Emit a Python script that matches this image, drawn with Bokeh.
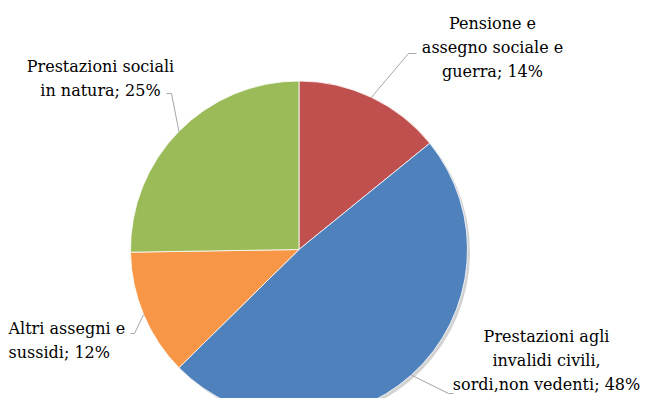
import numpy as np
from bokeh.plotting import figure
from bokeh.models import Range1d, ColumnDataSource
from bokeh.core.properties import value
from bokeh.embed import file_html
from bokeh.resources import INLINE

# ---- data ----
categories = [
    "Pensione e\nassegno sociale e\nguerra",
    "Prestazioni agli\ninvalidi civili,\nsordi,non vedenti",
    "Altri assegni e\nsussidi",
    "Prestazioni sociali\nin natura",
]
percent = [14, 48, 12, 25]
colors = ["#C0504D", "#4F81BD", "#F79646", "#9BBB59"]

# ---- layout (reference pixel space; y flipped) ----
W, H = 659, 414
def Y(y):
    return H - y

cx, cy, r = 298.5, Y(249), 168.5
X0, Y0 = 0, 0

p = figure(width=643, height=398, output_backend="svg", toolbar_location=None,
           x_range=Range1d(X0, X0 + 643), y_range=Range1d(Y(Y0 + 398), Y(Y0)),
           min_border=0)
p.axis.visible = False
p.grid.visible = False
p.outline_line_color = None
p.background_fill_color = "white"

vals = np.array(percent, dtype=float)
frac = vals / vals.sum()
cum = np.concatenate([[0], np.cumsum(frac)])
start = np.pi / 2 - cum[:-1] * 2 * np.pi
end = np.pi / 2 - cum[1:] * 2 * np.pi

# faint shadow
p.circle(x=[cx + 2.5], y=[cy - 2.5], radius=r, fill_color="#7f7f7f",
         fill_alpha=0.35, line_color=None)

src = ColumnDataSource(dict(start=start, end=end, color=colors))
p.wedge(x=cx, y=cy, radius=r, start_angle="start", end_angle="end",
        direction="clock", fill_color="color", line_color="white",
        line_width=0.8, source=src)

# leader lines from the middle of each slice's arc
mid = (start + end) / 2
sx = cx + r * np.cos(mid)
sy = cy + r * np.sin(mid)
elbows = [
    [(408, 53), (416, 53)],
    [(448, 393), (453, 393)],
    [(134, 333), (130, 333)],
    [(171, 93), (166, 93)],
]
xs, ys = [], []
for i, pts in enumerate(elbows):
    xs.append([sx[i]] + [q[0] for q in pts])
    ys.append([sy[i]] + [Y(q[1]) for q in pts])
p.multi_line(xs=xs, ys=ys, line_color="#a6a6a6", line_width=1)

# labels
labels = [f"{c}; {v}%" for c, v in zip(categories, percent)]
lab_pos = [(492, 47, "center"), (546, 360, "center"), (8, 340, "left"), (100, 78, "center")]
for txt, (lx, ly, al) in zip(labels, lab_pos):
    p.text(x=[lx], y=[Y(ly)], text=[txt], text_align=al, text_baseline="middle",
           text_font=value("DejaVu Serif"), text_font_size="16px",
           text_color="#000000", text_line_height=1.24)

open("out.html", "w").write(file_html(p, INLINE))
